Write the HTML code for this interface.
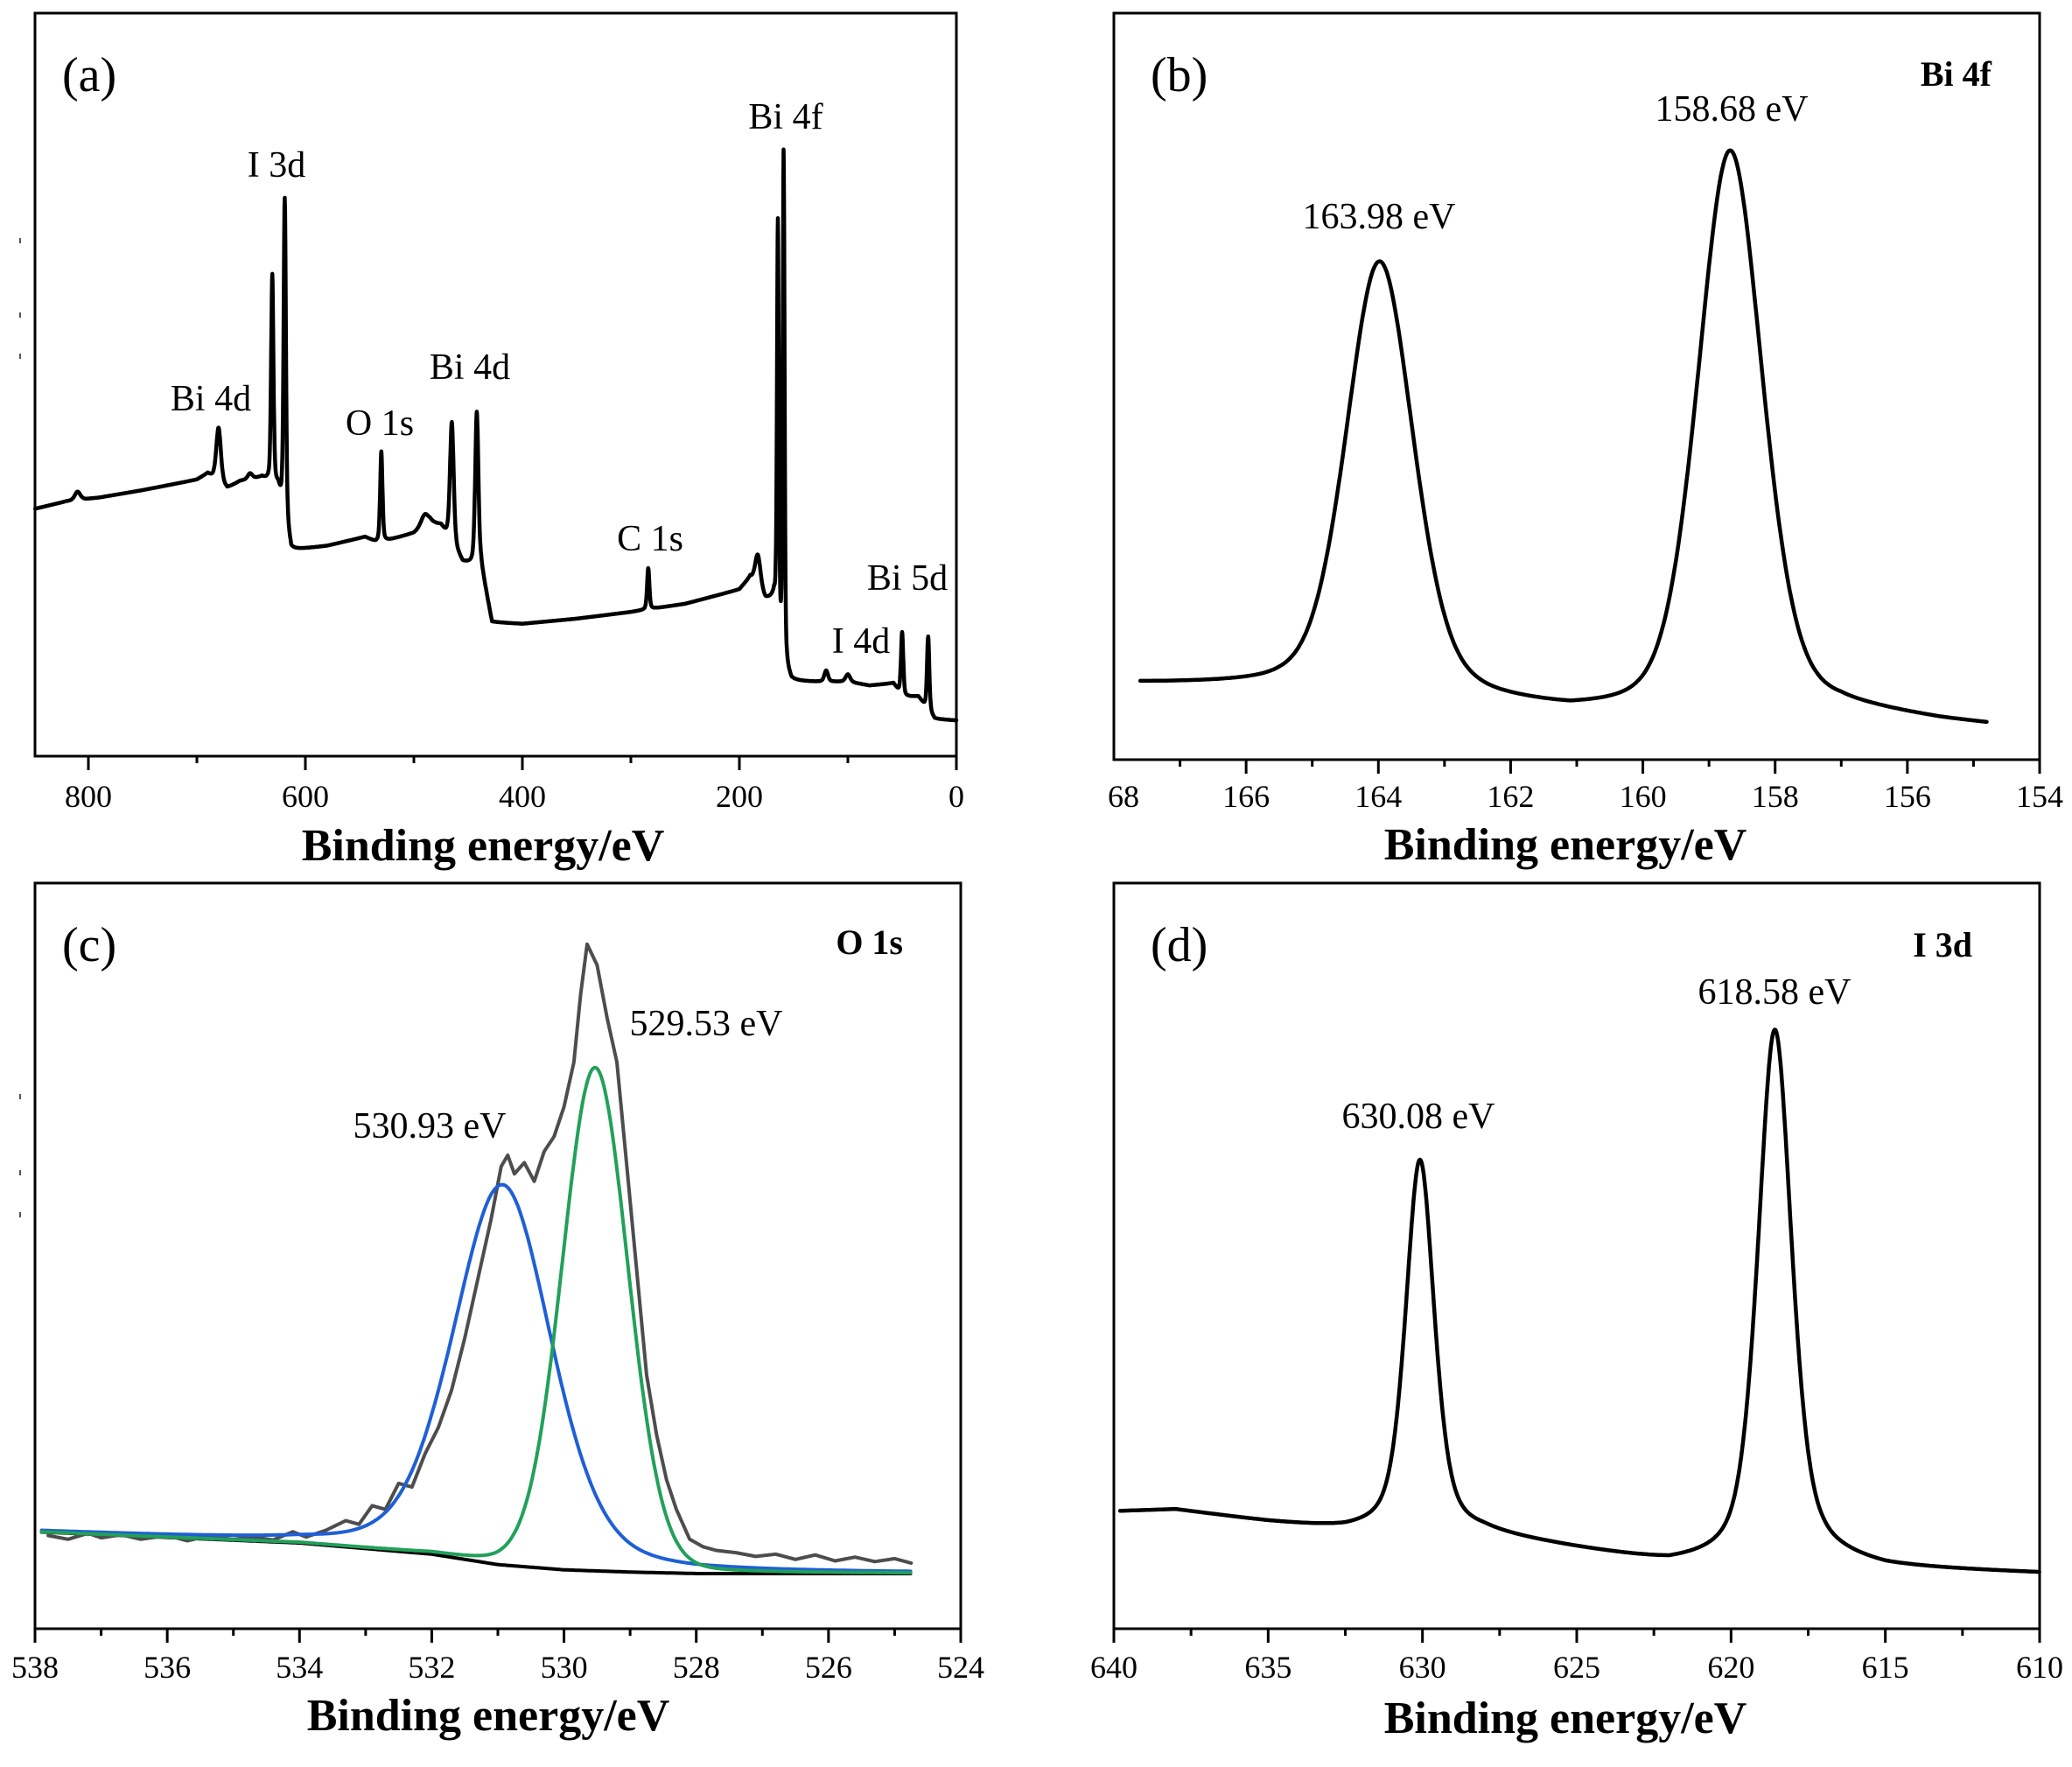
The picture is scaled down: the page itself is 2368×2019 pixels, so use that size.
<!DOCTYPE html>
<html><head><meta charset="utf-8"><style>
html,body{margin:0;padding:0;background:#fff;}
svg{display:block;font-family:"Liberation Serif",serif;}
</style></head><body>
<svg id="fig" xmlns="http://www.w3.org/2000/svg" width="2368" height="2019" viewBox="0 0 2368 2019">
<rect width="2368" height="2019" fill="#fff"/>
<g id="layer"></g>
</svg>
<script>
// ---------- Panel (a) survey ----------
const aBaseE = [849,820,790,750,700,690,672,660,640,625,613,580,545,535,525,500,485,475,455,438,428,400,350,300,250,200,190,176,168,160,152,130,100,80,58,50,35,28,20,0];
const aBaseI = [33.3,34.3,34.8,35.8,37.2,38,36,37,37.5,36,27.7,28.3,29.5,28.8,29,30,31.5,31,26,25.5,18,17.8,18.5,19.4,20.5,22.4,24,21,21,12,10.1,10,10,9.5,9.8,8,8,6.5,5,4.8];
const aPeakE = [810,680,651,630.5,619,530,490,465,442,284,183,164.5,159.2,120,100,50,26];
const aPeakTop = [35.6,44.2,38,64.7,75,41,32.5,44.9,46.3,25.3,27,71.4,81,11.5,11,16.7,16.1];
const aPeakW = [6,5,5,2.5,2.5,2.5,8,4,3.5,2.5,6,2,2,4,5,2.5,2.5];
const aLabels = ["Bi 4d","I 3d","O 1s","Bi 4d","C 1s","Bi 4f","Bi 5d","I 4d"];
const aLabelX = [241,316,434,537,743,898,1037,984];
const aLabelY = [469,202,497,433,629,147,674,746];
const aTicks = [800,600,400,200,0];
const aMinor = [700,500,300,100];

// ---------- Panel (b) Bi 4f ----------
const bBaseE = [167.6,165.5,162.5,161.1,160,157,155.5,154.8];
const bBaseI = [10,9.5,7.5,6,6,6.5,5,4.5];
const bPeakE = [163.98,158.68];
const bPeakTop = [66.5,81.4];
const bPeakW = [1.2,1.15];
const bTicks = [166,164,162,160,158,156,154];
const bMinor = [167,165,163,161,159,157,155];

// ---------- Panel (c) O 1s ----------
const cBgE = [538,534,532,531,530,529,528,524.7];
const cBgI = [13,11.5,10,8.6,7.9,7.6,7.4,7.4];
const cGreen = {center:529.53, height:67.5, fwhm:1.18, eta:0.1};
const cBlue = {center:530.93, height:51, fwhm:1.75, eta:0.3};
const cDataE = [537.8,537.5,537.2,537,536.7,536.4,536,535.7,535.4,535,534.7,534.4,534.1,533.9,533.6,533.3,533.1,532.9,532.7,532.5,532.3,532.1,531.9,531.7,531.5,531.3,531.1,530.95,530.85,530.75,530.6,530.45,530.3,530.15,530,529.85,529.75,529.65,529.5,529.35,529.2,529.05,528.9,528.75,528.6,528.45,528.3,528.1,527.9,527.7,527.4,527.1,526.8,526.5,526.2,525.9,525.6,525.3,525,524.75];
const cDataI = [12.5,12,12.8,12.2,12.6,12,12.5,11.8,12.4,12,12.3,11.9,13,12.3,13.2,14.5,14,16.5,16,19.5,19,23.5,27,32,39,47,55,62,63.5,61,62.5,60,64,66,70,76,85,91.8,89,82,76,62,48,34,26,20,16,12,11,10.5,10.2,9.7,10,9.3,9.9,9.1,9.6,9,9.4,8.8];
const cTicks = [538,536,534,532,530,528,526,524];
const cMinor = [537,535,533,531,529,527,525];

// ---------- Panel (d) I 3d ----------
const dBaseE = [639.8,638,635,632.5,628,625,622,620,617,615,610];
const dBaseI = [15.7,15.9,14.2,13,12.5,10.5,8.5,8.5,9,8,7.4];
const dPeakE = [630.08,618.58];
const dPeakTop = [62.8,80.3];
const dPeakW = [1.1,1.3];
const dTicks = [640,635,630,625,620,615,610];
const dMinor = [637.5,632.5,627.5,622.5,617.5,612.5];

const NS = "http://www.w3.org/2000/svg";
const layer = document.getElementById('layer');
function mk(tag, attrs, parent){
  const e = document.createElementNS(NS, tag);
  for (const k in attrs) e.setAttribute(k, attrs[k]);
  (parent||layer).appendChild(e);
  return e;
}
function interp(xs, ys, x){
  const desc = xs[0] > xs[xs.length-1];
  for (let i=0;i<xs.length-1;i++){
    const a=xs[i], b=xs[i+1];
    if ((desc && x<=a && x>=b) || (!desc && x>=a && x<=b)){
      const t=(x-a)/(b-a); return ys[i]+t*(ys[i+1]-ys[i]);
    }
  }
  return (desc ? (x>xs[0]) : (x<xs[0])) ? ys[0] : ys[ys.length-1];
}
function pv(E, c, w, eta){
  const d=(E-c)/(w/2);
  return eta/(1+d*d) + (1-eta)*Math.exp(-Math.LN2*d*d);
}
function makePanel(p){
  p.sx = E => p.left + (p.eL-E)/(p.eL-p.eR)*(p.right-p.left);
  p.sy = I => p.bottom - I*(p.bottom-p.top)/100;
  return p;
}
function path(p, Es, Is, color, w, name){
  let d='';
  for (let i=0;i<Es.length;i++) d += (i?'L':'M') + p.sx(Es[i]).toFixed(1) + ' ' + p.sy(Is[i]).toFixed(1);
  const el = mk('path',{d:d,fill:'none',stroke:color,'stroke-width':w,'stroke-linejoin':'round','stroke-linecap':'round'});
  
  
  return el;
}
function spectrum(p, baseE, baseI, peakE, peakTop, peakW, eta, step, name){
  const heights = peakE.map((c,i)=> peakTop[i]-interp(baseE,baseI,c));
  const Es=[], Is=[];
  const e0=baseE[0], e1=baseE[baseE.length-1];
  for (let E=e0; E>=e1-1e-9; E-=step){
    let v=interp(baseE,baseI,E);
    for (let k=0;k<peakE.length;k++) v += heights[k]*pv(E,peakE[k],peakW[k],eta);
    Es.push(E); Is.push(v);
  }
  path(p, Es, Is, '#000', 4.5, name);
}
function frame(p, ticks, minor, tickY, labelFmt, name){
  const r = mk('rect',{x:p.left,y:p.top,width:p.right-p.left,height:p.bottom-p.top,fill:'none',stroke:'#000','stroke-width':3});
  
  
  ticks.forEach(t=>{
    const x=p.sx(t);
    const l = mk('line',{x1:x,y1:p.bottom,x2:x,y2:p.bottom+16,stroke:'#000','stroke-width':3});
    
    
    const tx = mk('text',{x:x,y:tickY,'font-size':36,'text-anchor':'middle',fill:'#000'});
    tx.textContent = labelFmt(t);
    
    
  });
  minor.forEach(t=>{
    const x=p.sx(t);
    const l = mk('line',{x1:x,y1:p.bottom,x2:x,y2:p.bottom+8,stroke:'#000','stroke-width':3});
    
    
  });
}
function text(x,y,s,size,opts,name){
  const t = mk('text',Object.assign({x:x,y:y,'font-size':size,fill:'#000'},opts||{}));
  t.textContent = s;
  
  
  return t;
}

// Panel a
const pa = makePanel({left:40,right:1093,top:15,bottom:864,eL:849.2,eR:0});
frame(pa, aTicks, aMinor, 922, t=>String(t), 'panel-a');
spectrum(pa, aBaseE, aBaseI, aPeakE, aPeakTop, aPeakW, 0.4, 0.25, 'survey-spectrum');
aLabels.forEach((s,i)=> text(aLabelX[i], aLabelY[i], s, 42, {'text-anchor':'middle'}, 'peak-label-a'));
text(71,104,'(a)',56,{}, 'panel-a-letter');
text(552,983,'Binding energy/eV',52,{'text-anchor':'middle','font-weight':'bold'},'panel-a-x-axis-title');

// Panel b
const pb = makePanel({left:1273,right:2331,top:15,bottom:868,eL:168,eR:154});
frame(pb, bTicks, bMinor, 922, t=>String(t), 'panel-b');
text(1266,922,'68',36,{}, 'panel-b-tick-label-first');
spectrum(pb, bBaseE, bBaseI, bPeakE, bPeakTop, bPeakW, 0.3, 0.02, 'bi4f-spectrum');
text(1315,104,'(b)',56,{}, 'panel-b-letter');
text(2276,98,'Bi 4f',40,{'text-anchor':'end','font-weight':'bold'},'panel-b-title');
text(1979,138,'158.68 eV',42,{'text-anchor':'middle'},'peak-label-158');
text(1576,261,'163.98 eV',42,{'text-anchor':'middle'},'peak-label-164');
text(1789,982,'Binding energy/eV',52,{'text-anchor':'middle','font-weight':'bold'},'panel-b-x-axis-title');

// Panel c
const pc = makePanel({left:40,right:1098,top:1009,bottom:1861,eL:538,eR:524});
frame(pc, cTicks, cMinor, 1917, t=>String(t), 'panel-c');
(function(){
  const Es=[], bg=[], gr=[], bl=[];
  for (let E=537.9; E>=524.75; E-=0.02){
    const b=interp(cBgE,cBgI,E);
    Es.push(E); bg.push(b);
    gr.push(b + cGreen.height*pv(E,cGreen.center,cGreen.fwhm,cGreen.eta));
    bl.push(b + cBlue.height*pv(E,cBlue.center,cBlue.fwhm,cBlue.eta));
  }
  path(pc, Es, bg, '#000', 4, 'background-line');
  path(pc, cDataE, cDataI, '#4d4d4d', 4, 'measured-o1s');
  path(pc, Es, bl, '#1f5fd6', 4, 'fit-peak-530-93');
  path(pc, Es, gr, '#22a05a', 4, 'fit-peak-529-53');
})();
text(71,1098,'(c)',56,{}, 'panel-c-letter');
text(1032,1090,'O 1s',40,{'text-anchor':'end','font-weight':'bold'},'panel-c-title');
text(807,1183,'529.53 eV',42,{'text-anchor':'middle'},'peak-label-529');
text(491,1300,'530.93 eV',42,{'text-anchor':'middle'},'peak-label-531');
text(558,1977,'Binding energy/eV',52,{'text-anchor':'middle','font-weight':'bold'},'panel-c-x-axis-title');

// Panel d
const pd = makePanel({left:1273,right:2331,top:1009,bottom:1861,eL:640,eR:610});
frame(pd, dTicks, dMinor, 1917, t=>String(t), 'panel-d');
spectrum(pd, dBaseE, dBaseI, dPeakE, dPeakTop, dPeakW, 0.5, 0.03, 'i3d-spectrum');
text(1315,1098,'(d)',56,{}, 'panel-d-letter');
text(2254,1093,'I 3d',40,{'text-anchor':'end','font-weight':'bold'},'panel-d-title');
text(2028,1147,'618.58 eV',42,{'text-anchor':'middle'},'peak-label-618');
text(1621,1289,'630.08 eV',42,{'text-anchor':'middle'},'peak-label-630');
text(1789,1980,'Binding energy/eV',52,{'text-anchor':'middle','font-weight':'bold'},'panel-d-x-axis-title');

// stray y marks
[275,360,407,1253,1340,1388].forEach(y=>{
  const l = mk('line',{x1:23,y1:y-3,x2:23,y2:y+3,stroke:'#555','stroke-width':2});
  
  
});
</script>
</body></html>
